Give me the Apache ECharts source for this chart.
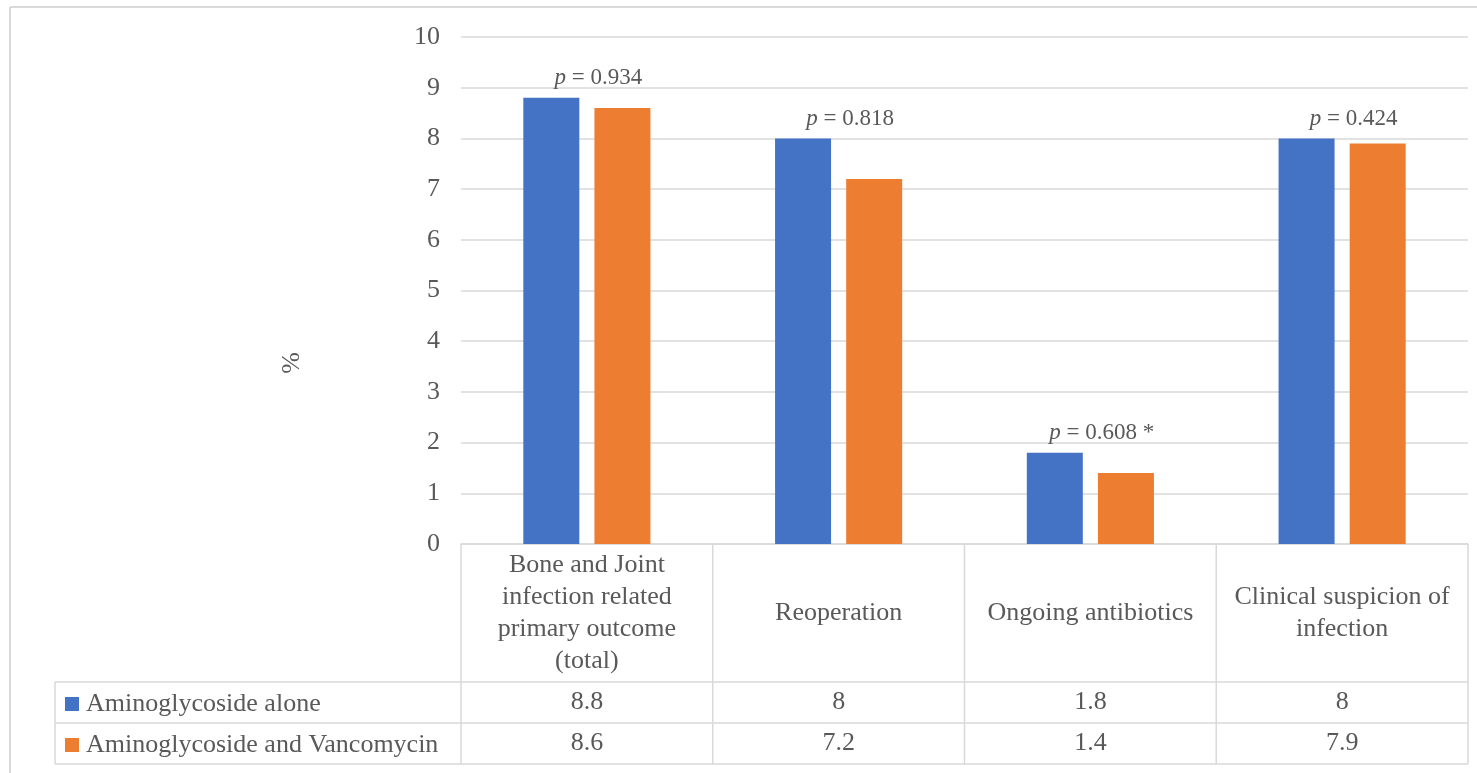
<!DOCTYPE html>
<html>
<head>
<meta charset="utf-8">
<script src="https://cdn.jsdelivr.net/npm/echarts@6/dist/echarts.min.js"></script>
<style>
  html, body { margin: 0; padding: 0; background: #fff; }
  #chart { width: 1477px; height: 773px; }
</style>
</head>
<body>
<div id="chart"></div>
<script>
// 数据
const categories = [
    'Bone and Joint\ninfection related\nprimary outcome\n(total)',
    'Reoperation',
    'Ongoing antibiotics',
    'Clinical suspicion of\ninfection'
]
const seriesNames = ['Aminoglycoside alone', 'Aminoglycoside and Vancomycin']
const aminoAlone = [8.8, 8, 1.8, 8]
const aminoVanco = [8.6, 7.2, 1.4, 7.9]
const pValues = ['0.934', '0.818', '0.608 *', '0.424']
const yTicks = [0, 10, 1] // min, max, interval

// 布局
const W = 1477
const H = 773
const plotLeft = 461
const plotRight = 1468
const plotTop = 37
const plotBottom = 544
const tableLeft = 55
const rowLines = [682, 723, 764]
const gridColor = '#d9d9d9'
const textColor = '#595959'
const font = '"Liberation Serif", "DejaVu Serif", serif'
const fs = 26

const colW = (plotRight - plotLeft) / categories.length
const graphics = []

// 外框（右侧和底部被裁掉）
graphics.push({ type: 'line', shape: { x1: 10, y1: 7, x2: W, y2: 7 }, style: { stroke: gridColor, lineWidth: 2 } })
graphics.push({ type: 'line', shape: { x1: 10, y1: 7, x2: 10, y2: H }, style: { stroke: gridColor, lineWidth: 2 } })

// 表格横线
rowLines.forEach(y => {
    graphics.push({ type: 'line', shape: { x1: tableLeft, y1: y, x2: plotRight, y2: y }, style: { stroke: gridColor, lineWidth: 1.5 } })
})
// 表格竖线
for (let i = 0; i <= categories.length; i++) {
    const x = plotLeft + i * colW
    graphics.push({ type: 'line', shape: { x1: x, y1: plotBottom, x2: x, y2: rowLines[2] }, style: { stroke: gridColor, lineWidth: 1.5 } })
}
graphics.push({ type: 'line', shape: { x1: tableLeft, y1: rowLines[0], x2: tableLeft, y2: rowLines[2] }, style: { stroke: gridColor, lineWidth: 1.5 } })

// 表格数值
const rows = [aminoAlone, aminoVanco]
rows.forEach((vals, r) => {
    const cy = (rowLines[r] + rowLines[r + 1]) / 2
    vals.forEach((v, i) => {
        graphics.push({
            type: 'text',
            style: {
                text: String(v),
                x: plotLeft + (i + 0.5) * colW,
                y: cy,
                align: 'center',
                verticalAlign: 'middle',
                fontSize: fs,
                fontFamily: font,
                fill: textColor
            }
        })
    })
})

// y轴标题（Excel里居中于整张图）
graphics.push({
    type: 'text',
    x: 292,
    y: 363,
    rotation: Math.PI / 2,
    style: {
        text: '%',
        align: 'center',
        verticalAlign: 'middle',
        fontSize: fs,
        fontFamily: font,
        fill: textColor
    }
})

const option = {
    backgroundColor: '#fff',
    animation: false,
    color: ['#4472C4', '#ED7D31'],
    textStyle: { fontFamily: font },
    grid: {
        left: plotLeft,
        right: W - plotRight,
        top: plotTop,
        bottom: H - plotBottom
    },
    legend: {
        orient: 'vertical',
        left: 65,
        top: 691,
        padding: 0,
        icon: 'rect',
        itemWidth: 14,
        itemHeight: 14,
        itemGap: 15,
        selectedMode: false,
        textStyle: { fontSize: fs, color: textColor, fontFamily: font, lineHeight: 26, padding: [0, 0, 0, 2] },
        data: seriesNames
    },
    xAxis: {
        type: 'category',
        data: categories,
        axisLine: { show: true, lineStyle: { color: gridColor, width: 1.5 } },
        axisTick: { show: false },
        axisLabel: {
            color: textColor,
            fontSize: fs,
            fontFamily: font,
            lineHeight: 32,
            verticalAlign: 'middle',
            margin: 69,
            interval: 0
        }
    },
    yAxis: {
        type: 'value',
        min: yTicks[0],
        max: yTicks[1],
        interval: yTicks[2],
        axisLine: { show: false },
        axisTick: { show: false },
        axisLabel: { color: textColor, fontSize: fs, fontFamily: font, margin: 21 },
        splitLine: { lineStyle: { color: gridColor, width: 1.5 } }
    },
    series: [
        {
            name: seriesNames[0],
            type: 'bar',
            data: aminoAlone,
            barWidth: 56,
            barGap: '27%',
            label: {
                show: true,
                position: 'top',
                distance: 8,
                offset: [47, 0],
                color: textColor,
                fontSize: 23,
                fontFamily: font,
                formatter: p => '{i|p} = ' + pValues[p.dataIndex],
                rich: {
                    i: { fontStyle: 'italic', fontSize: 23, fontFamily: font, color: textColor }
                }
            }
        },
        {
            name: seriesNames[1],
            type: 'bar',
            data: aminoVanco,
            barWidth: 56
        }
    ],
    graphic: graphics
}

const chart = echarts.init(document.getElementById('chart'))
chart.setOption(option)
</script>
</body>
</html>
